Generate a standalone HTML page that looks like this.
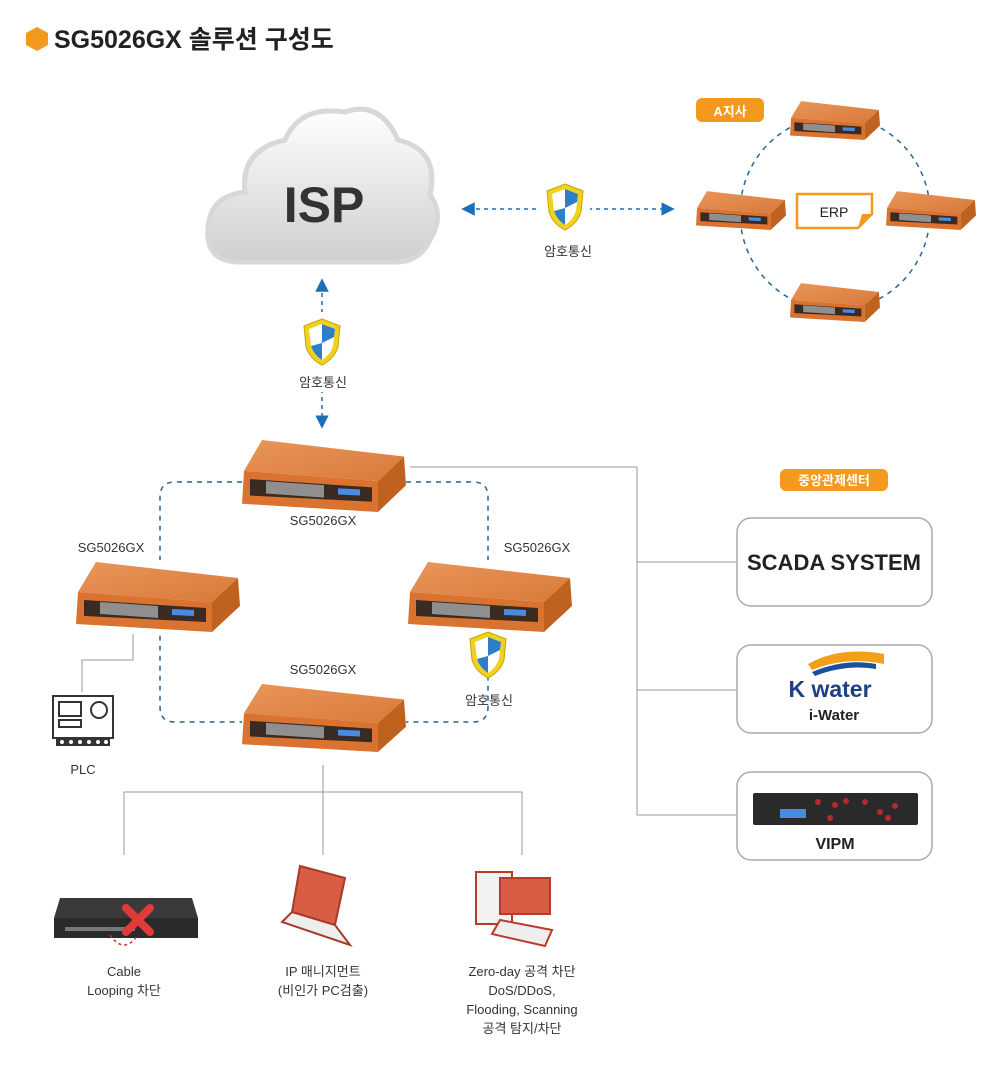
<!DOCTYPE html>
<html><head><meta charset="utf-8"><style>
html,body{margin:0;padding:0;background:#fff;}
svg text{font-family:"Liberation Sans","Noto Sans CJK KR",sans-serif;}
</style></head><body>
<svg width="987" height="1066" viewBox="0 0 987 1066" xmlns="http://www.w3.org/2000/svg">
<defs>
<linearGradient id="cl" x1="0" y1="0" x2="0" y2="1"><stop offset="0" stop-color="#ffffff"/><stop offset="1" stop-color="#cfcfcf"/></linearGradient>
<linearGradient id="tp" x1="0" y1="0" x2="1" y2="1"><stop offset="0" stop-color="#e9955a"/><stop offset="1" stop-color="#d87a3a"/></linearGradient>
<symbol id="sw" viewBox="0 0 164 72" preserveAspectRatio="none">
<path d="M2,32 L20,2 L162,18 L136,42 Z" fill="url(#tp)"/>
<path d="M2,32 L136,42 L136,72 L0,64 Z" fill="#d9732f"/>
<path d="M136,42 L162,18 L164,46 L136,72 Z" fill="#c0621f"/>
<path d="M8,40 L130,48 L130,62 L8,56 Z" fill="#3a2a22"/>
<path d="M24,42 L82,46 L82,58 L24,54 Z" fill="#8f8f8f"/>
<path d="M96,49 L118,50 L118,56 L96,55 Z" fill="#4a8be0"/>
</symbol>
<symbol id="sh" viewBox="0 0 40 50">
<path d="M20,2 L38,9 L36,30 Q32,42 20,48 Q8,42 4,30 L2,9 Z" fill="#f0d21e" stroke="#c8a400" stroke-width="1"/>
<path d="M20,7 L33,12 L31,29 Q28,38 20,43 Q12,38 9,29 L7,12 Z" fill="#fff"/>
<path d="M20,7 L33,12 L32,20 L20,26 Z M20,26 L9,29 Q12,38 20,43 Z" fill="#2f7fc8"/>
</symbol>
<marker id="ar" viewBox="0 0 10 10" refX="5" refY="5" markerWidth="9" markerHeight="9" orient="auto-start-reverse"><path d="M0,0 L10,5 L0,10 Z" fill="#1a6fb8"/></marker>
</defs>

<!-- title -->
<polygon points="37,27 48,33 48,45 37,51 26,45 26,33" fill="#f39a1e"/>
<text x="54" y="48" font-size="25" font-weight="bold" fill="#222">SG5026GX 솔루션 구성도</text>

<!-- cloud -->
<path d="M240,262 Q205,262 208,228 Q210,196 245,192 Q240,150 285,140 Q300,105 345,112 Q380,100 398,140 Q440,150 430,195 Q445,215 430,240 Q420,262 395,262 Z" fill="url(#cl)" stroke="#d8d8d8" stroke-width="5"/>
<text x="324" y="222" font-size="50" font-weight="bold" fill="#333" text-anchor="middle">ISP</text>

<!-- arrows -->
<line x1="468" y1="209" x2="668" y2="209" stroke="#1a6fb8" stroke-width="1.5" stroke-dasharray="4,4" marker-start="url(#ar)" marker-end="url(#ar)"/>
<line x1="322" y1="285" x2="322" y2="422" stroke="#1a6fb8" stroke-width="1.5" stroke-dasharray="4,4" marker-start="url(#ar)" marker-end="url(#ar)"/>
<rect x="540" y="180" width="50" height="54" fill="#fff"/>
<use href="#sh" x="545" y="182" width="40" height="50"/>
<text x="568" y="256" font-size="13" fill="#333" text-anchor="middle">암호통신</text>
<rect x="296" y="312" width="52" height="80" fill="#fff"/>
<use href="#sh" x="302" y="317" width="40" height="50"/>
<text x="323" y="387" font-size="13" fill="#333" text-anchor="middle">암호통신</text>

<!-- A branch -->
<ellipse cx="835" cy="213" rx="95" ry="97" fill="none" stroke="#2a6496" stroke-width="1.5" stroke-dasharray="5,5"/>
<rect x="696" y="98" width="68" height="24" rx="6" fill="#f39a1e"/>
<text x="730" y="116" font-size="13" font-weight="bold" fill="#fff" text-anchor="middle">A지사</text>
<use href="#sw" x="790" y="100" width="90" height="40"/>
<use href="#sw" x="696" y="190" width="90" height="40"/>
<use href="#sw" x="886" y="190" width="90" height="40"/>
<use href="#sw" x="790" y="282" width="90" height="40"/>
<path d="M797,194 L872,194 L872,214 L858,228 L797,228 Z" fill="#fff" stroke="#f39a1e" stroke-width="2.5"/>
<path d="M872,214 L858,228 L862,214 Z" fill="#f39a1e"/>
<text x="834" y="217" font-size="14" fill="#222" text-anchor="middle">ERP</text>

<!-- main ring -->
<path d="M242,482 L175,482 Q160,482 160,497 L160,707 Q160,722 175,722 L242,722" fill="none" stroke="#2a6496" stroke-width="1.5" stroke-dasharray="5,5"/>
<path d="M406,482 L473,482 Q488,482 488,497 L488,707 Q488,722 473,722 L406,722" fill="none" stroke="#2a6496" stroke-width="1.5" stroke-dasharray="5,5"/>

<!-- gray connectors -->
<g stroke="#999" stroke-width="1" fill="none">
<path d="M410,467 L637,467 L637,815 L737,815"/>
<path d="M637,562 L737,562"/><path d="M637,690 L737,690"/>
<path d="M323,765 L323,855"/><path d="M124,855 L124,792 L522,792 L522,855"/>
<path d="M133,632 L133,660 L82,660 L82,692"/>
</g>

<!-- switches -->
<rect x="76" y="560" width="166" height="74" fill="#fff"/>
<rect x="406" y="560" width="166" height="74" fill="#fff"/>
<use href="#sw" x="242" y="438" width="164" height="74"/>
<use href="#sw" x="76" y="560" width="164" height="72"/>
<use href="#sw" x="408" y="560" width="164" height="72"/>
<use href="#sw" x="242" y="682" width="164" height="70"/>
<text x="323" y="525" font-size="13" fill="#333" text-anchor="middle">SG5026GX</text>
<text x="111" y="552" font-size="13" fill="#333" text-anchor="middle">SG5026GX</text>
<text x="537" y="552" font-size="13" fill="#333" text-anchor="middle">SG5026GX</text>
<text x="323" y="674" font-size="13" fill="#333" text-anchor="middle">SG5026GX</text>
<use href="#sh" x="468" y="630" width="40" height="50"/>
<text x="489" y="705" font-size="13" fill="#333" text-anchor="middle">암호통신</text>

<!-- PLC -->
<rect x="53" y="696" width="60" height="42" fill="#fff" stroke="#333" stroke-width="2"/>
<rect x="59" y="702" width="22" height="14" fill="none" stroke="#333" stroke-width="2"/>
<circle cx="99" cy="710" r="8" fill="none" stroke="#333" stroke-width="2"/>
<rect x="59" y="720" width="22" height="7" fill="none" stroke="#333" stroke-width="2"/>
<rect x="56" y="738" width="54" height="8" fill="#333"/>
<g fill="#fff"><circle cx="62" cy="742" r="2"/><circle cx="71" cy="742" r="2"/><circle cx="80" cy="742" r="2"/><circle cx="89" cy="742" r="2"/><circle cx="98" cy="742" r="2"/><circle cx="106" cy="742" r="2"/></g>
<text x="83" y="774" font-size="13" fill="#333" text-anchor="middle">PLC</text>

<!-- right boxes -->
<rect x="780" y="469" width="108" height="22" rx="6" fill="#f39a1e"/>
<text x="834" y="485" font-size="13" font-weight="bold" fill="#fff" text-anchor="middle">중앙관제센터</text>
<g fill="#fff" stroke="#aaa" stroke-width="1.5">
<rect x="737" y="518" width="195" height="88" rx="14"/>
<rect x="737" y="645" width="195" height="88" rx="14"/>
<rect x="737" y="772" width="195" height="88" rx="14"/>
</g>
<text x="834" y="570" font-size="22" font-weight="bold" fill="#222" text-anchor="middle">SCADA SYSTEM</text>
<path d="M808,664 Q840,646 884,654 L884,664 Q846,656 812,670 Z" fill="#f2a01a"/>
<path d="M812,672 Q845,658 876,664 L876,669 Q846,664 815,676 Z" fill="#1a4f9a"/>
<text x="830" y="697" font-size="23" font-weight="bold" fill="#1f3f85" text-anchor="middle">K water</text>
<text x="834" y="720" font-size="15" font-weight="bold" fill="#222" text-anchor="middle">i-Water</text>
<rect x="753" y="793" width="165" height="32" rx="2" fill="#2a2a2a"/>
<rect x="780" y="809" width="26" height="9" fill="#4a8be0"/>
<g fill="#b52a2a"><circle cx="818" cy="802" r="3"/><circle cx="835" cy="805" r="3"/><circle cx="846" cy="801" r="3"/><circle cx="865" cy="802" r="3"/><circle cx="880" cy="812" r="3"/><circle cx="895" cy="806" r="3"/><circle cx="888" cy="818" r="3"/><circle cx="830" cy="818" r="3"/></g>
<text x="835" y="849" font-size="16" font-weight="bold" fill="#222" text-anchor="middle">VIPM</text>

<!-- bottom icons -->
<path d="M60,898 L192,898 L198,918 L54,918 Z" fill="#3a3a3a"/>
<rect x="54" y="918" width="144" height="20" fill="#2a2a2a"/>
<rect x="65" y="927" width="70" height="4" fill="#777"/>
<path d="M110,935 Q124,955 138,935" fill="none" stroke="#c33" stroke-width="1.5" stroke-dasharray="3,3"/>
<path d="M126,908 L150,932 M150,908 L126,932" stroke="#e03a3a" stroke-width="8" stroke-linecap="round"/>
<text x="124" y="976" font-size="13" fill="#333" text-anchor="middle">Cable</text>
<text x="124" y="995" font-size="13" fill="#333" text-anchor="middle">Looping 차단</text>

<path d="M300,866 L345,878 L335,925 L292,912 Z" fill="#d95c45" stroke="#a83a2a" stroke-width="2"/>
<path d="M292,912 L335,925 L350,945 L282,922 Z" fill="#eee" stroke="#a83a2a" stroke-width="2"/>
<text x="323" y="976" font-size="13" fill="#333" text-anchor="middle">IP 매니지먼트</text>
<text x="323" y="995" font-size="13" fill="#333" text-anchor="middle">(비인가 PC검출)</text>

<rect x="476" y="872" width="36" height="52" fill="#f2f2f2" stroke="#b83a2a" stroke-width="2"/>
<rect x="500" y="878" width="50" height="36" fill="#d95c45" stroke="#b83a2a" stroke-width="2"/>
<path d="M500,920 L552,930 L545,946 L492,934 Z" fill="#eee" stroke="#b83a2a" stroke-width="2"/>
<text x="522" y="976" font-size="13" fill="#333" text-anchor="middle">Zero-day 공격 차단</text>
<text x="522" y="995" font-size="13" fill="#333" text-anchor="middle">DoS/DDoS,</text>
<text x="522" y="1014" font-size="13" fill="#333" text-anchor="middle">Flooding, Scanning</text>
<text x="522" y="1033" font-size="13" fill="#333" text-anchor="middle">공격 탐지/차단</text>
</svg>
</body></html>
